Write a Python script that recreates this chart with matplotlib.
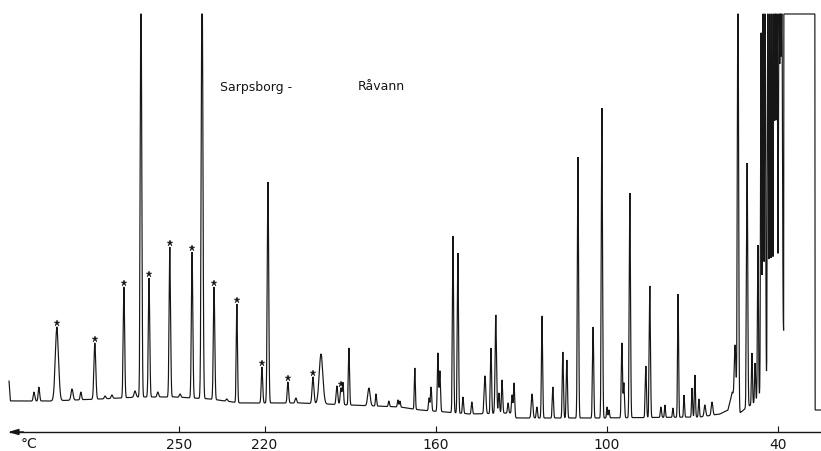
import numpy as np
import matplotlib
matplotlib.use("Agg")
import matplotlib.pyplot as plt

# ---- data (temperature axis in °C, signal in recorder units above the axis line) ----
base_T = [309.6, 309.1, 295.2, 277.7, 263.7, 251.4, 239.1, 228.6, 207.6, 190.0, 172.5,
          165.5, 148.0, 133.9, 131.8, 102.4, 67.3, 60.3, 57.5, 56.0, 54.3, 53.3, 50.8,
          48.0, 46.3, 44.5, 42.8, 41.0, 39.3, 38.2, 38.0, 37.9, 27.0, 26.95, 24.9]
base_y = [51, 31, 31, 33, 35, 35, 33, 29, 29, 27, 25,
          22, 18, 19, 14, 14, 15, 18, 22, 40, 24, 19, 25,
          29, 35, 42, 45, 50, 54, 100, 100, 470, 470, 22, 22]

peak_T = [300.8, 299.1, 292.8, 287.5, 284.4, 279.5, 275.9, 273.5, 269.3, 265.4,
          263.3, 260.5, 257.4, 253.2, 249.6, 245.4, 241.9, 237.7, 233.2, 229.7,
          220.9, 218.8, 211.8, 209.0, 203.0, 200.2, 194.6, 193.2, 192.5, 190.4,
          183.4, 180.9, 176.4, 173.2, 172.5, 167.3, 162.3, 161.6, 159.2, 158.5,
          153.9, 152.2, 150.4, 147.3, 142.7, 140.6, 138.9, 137.8, 136.7, 134.6,
          133.2, 132.5, 126.2, 124.5, 122.7, 118.9, 115.4, 114.0, 110.1, 104.8,
          101.7, 99.9, 99.2, 94.7, 94.0, 91.9, 86.3, 84.9, 81.0, 79.6,
          76.8, 75.0, 72.9, 70.1, 69.1, 67.7, 65.6, 63.1, 55.0, 54.0,
          50.8, 49.1, 48.0, 47.0, 45.9, 45.2, 44.5, 43.5, 42.8, 42.1,
          41.4, 40.85, 40.3, 39.6, 39.1, 38.6]
peak_apex = [40, 45, 105, 43, 40, 89, 36, 37, 145, 41,
             470, 154, 40, 185, 38, 180, 470, 145, 33, 128,
             65, 250, 50, 34, 55, 78, 46, 44, 49, 84,
             44, 38, 31, 32, 31, 64, 34, 45, 79, 61,
             196, 179, 35, 30, 56, 84, 117, 39, 52, 29,
             37, 49, 38, 25, 116, 45, 80, 72, 275, 105,
             324, 25, 22, 89, 49, 239, 66, 146, 25, 27,
             24, 138, 37, 44, 57, 33, 27, 30, 87, 470,
             269, 79, 69, 187, 399, 470, 470, 470, 470, 470,
             470, 470, 470, 470, 470, 470]
peak_sigma = [0.28, 0.25, 0.56, 0.35, 0.25, 0.32, 0.28, 0.28, 0.25, 0.35,
              0.25, 0.25, 0.28, 0.25, 0.28, 0.25, 0.28, 0.25, 0.28, 0.21,
              0.25, 0.25, 0.25, 0.28, 0.32, 0.63, 0.28, 0.28, 0.21, 0.21,
              0.42, 0.21, 0.21, 0.21, 0.18, 0.18, 0.21, 0.21, 0.21, 0.21,
              0.21, 0.21, 0.21, 0.21, 0.28, 0.21, 0.25, 0.21, 0.21, 0.21,
              0.21, 0.21, 0.28, 0.21, 0.21, 0.21, 0.21, 0.21, 0.21, 0.21,
              0.21, 0.18, 0.18, 0.21, 0.21, 0.21, 0.21, 0.21, 0.21, 0.18,
              0.18, 0.18, 0.18, 0.18, 0.18, 0.18, 0.28, 0.28, 0.28, 0.21,
              0.21, 0.18, 0.18, 0.18, 0.18, 0.18, 0.18, 0.18, 0.18, 0.18,
              0.18, 0.18, 0.18, 0.18, 0.18, 0.18]
starred_T = [292.8, 279.5, 269.3, 260.5, 253.2, 245.4, 237.7, 229.7, 220.9, 211.8, 203.0, 193.2]

tick_values = [250, 220, 160, 100, 40]
title_left = "Sarpsborg -"
title_right = "Råvann"
unit_label = "°C"

CLIP = 418  # recorder pen limit

# ---- build trace ----
T = np.linspace(24.9, 312.7, 60000)
bT = np.array(base_T)[::-1]
by = np.array(base_y)[::-1]
baseline = np.interp(T, bT, by)
signal = baseline.copy()
for pt, pa, ps in zip(peak_T, peak_apex, peak_sigma):
    amp = pa - np.interp(pt, bT, by)
    signal += amp * np.exp(-0.5 * ((T - pt) / ps) ** 2)
signal = np.minimum(signal, CLIP)
mask = T <= 309.6
T_plot, s_plot = T[mask], signal[mask]

# ---- figure ----
fig = plt.figure(figsize=(8.21, 4.51), dpi=100)
ax = fig.add_axes([0, 0, 1, 1])
ax.set_xlim(312.76, 24.9)
ax.set_ylim(-19, 432)

ax.plot(T_plot, s_plot, color="#161616", lw=0.85, solid_joinstyle="miter")

# stars over marked peaks
star_y = [np.interp(t, T, signal) + 4 for t in starred_T]
ax.plot(starred_T, star_y, linestyle="none", marker="*", markersize=4.5,
        color="#161616", markeredgewidth=0.3)

for s in ["left", "right", "top"]:
    ax.spines[s].set_visible(False)
ax.spines["bottom"].set_position(("data", 0))
ax.spines["bottom"].set_bounds(309.3, 24.9)
ax.spines["bottom"].set_linewidth(1.0)
ax.spines["bottom"].set_color("#161616")
ax.annotate("", xy=(309.9, 0), xytext=(304.5, 0),
            arrowprops=dict(arrowstyle="-|>,head_length=0.6,head_width=0.18",
                            color="#161616", lw=1.0, shrinkA=0, shrinkB=0))
ax.set_yticks([])
ax.set_xticks(tick_values)
ax.set_xticklabels([str(v) for v in tick_values])
ax.tick_params(axis="x", direction="in", length=4, width=0.8, pad=4,
               labelsize=10, colors="#161616")

ax.text(305.4, -12, unit_label, fontsize=10, ha="left", va="center", color="#161616")
ax.text(235.6, 345, title_left, fontsize=9, ha="left", va="center", color="#161616")
ax.text(187.2, 345, title_right, fontsize=9, ha="left", va="center", color="#161616")

fig.savefig("out.png", dpi=100, facecolor="white")
